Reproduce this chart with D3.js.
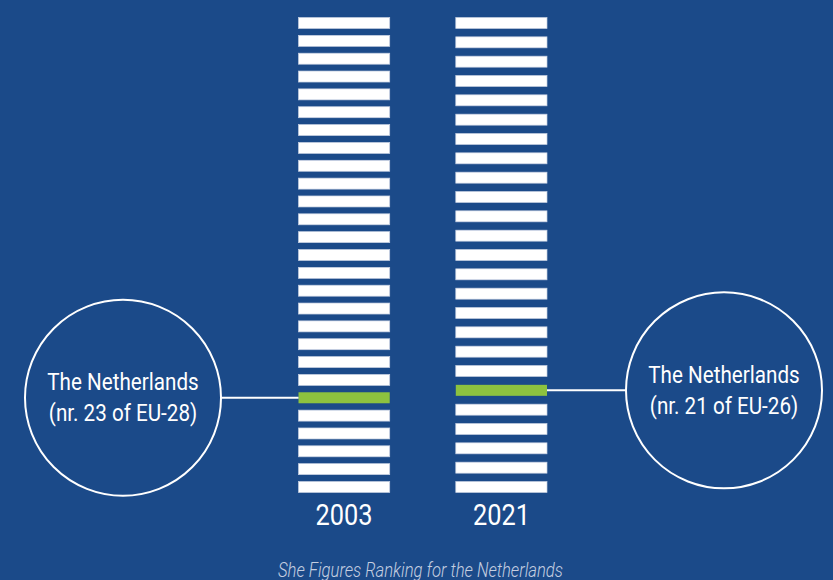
<!DOCTYPE html>
<html>
<head>
<meta charset="utf-8">
<script src="https://cdn.jsdelivr.net/npm/d3@7"></script>
<style>
  body { margin: 0; background: #1b4a89; }
  svg { display: block; }
</style>
</head>
<body>
<svg id="chart"></svg>
<script>
// data
const years = ["2003", "2021"]
const barCounts = [27, 25]       // bars drawn in each column
const highlightPos = [22, 20]    // position of the green (NL) bar, counted from top
const labelTop = ["The Netherlands", "The Netherlands"]
const labelBottom = ["(nr. 23 of EU-28)", "(nr. 21 of EU-26)"]
const caption = "She Figures Ranking for the Netherlands"

const width = 833
const height = 580
const bg = "#1b4a89"
const green = "#8dc23f"
const barH = 11
const circleR = 98
const circleX = [123, 724]
const squeeze = 0.86   // fake a condensed face

const svg = d3.select("#chart")
    .attr("width", width)
    .attr("height", height)

svg.append("rect")
    .attr("width", width)
    .attr("height", height)
    .attr("fill", bg)

const x = d3.scaleBand()
    .domain(years)
    .range([298.5, 547])
    .paddingInner(0.42)

function yScale(n){
    return d3.scaleLinear()
        .domain([1, n])
        .range([17.5, 481.5])
}

function condensedText(g, str, cx, cy, size, opts = {}){
    return g.append("text")
        .text(str)
        .attr("transform", `translate(${cx},${cy}) scale(${squeeze},1)`)
        .attr("font-family", "Roboto, sans-serif")
        .attr("font-size", size)
        .attr("font-weight", opts.weight || 400)
        .attr("font-style", opts.style || "normal")
        .attr("text-anchor", "middle")
        .attr("fill", opts.fill || "white")
}

years.forEach((year, k) => {
    const y = yScale(barCounts[k])
    const col = svg.append("g")

    col.selectAll("rect")
        .data(d3.range(1, barCounts[k] + 1))
        .join("rect")
        .attr("x", x(year))
        .attr("y", d => y(d))
        .attr("width", x.bandwidth())
        .attr("height", barH)
        .attr("fill", d => d === highlightPos[k] ? green : "white")
        .attr("stroke", d => d === highlightPos[k] ? "none" : "#c3cde0")
        .attr("stroke-width", 0.7)

    condensedText(col, year, x(year) + x.bandwidth() / 2, 525, 29.5)

    // callout circle joined to the highlighted bar
    const cy = y(highlightPos[k]) + barH / 2
    const cx = circleX[k]
    const left = cx < x(year)
    col.append("line")
        .attr("x1", left ? cx + circleR : x(year) + x.bandwidth())
        .attr("x2", left ? x(year) : cx - circleR)
        .attr("y1", cy)
        .attr("y2", cy)
        .attr("stroke", "white")
        .attr("stroke-width", 2)

    col.append("circle")
        .attr("cx", cx)
        .attr("cy", cy)
        .attr("r", circleR)
        .attr("fill", "none")
        .attr("stroke", "white")
        .attr("stroke-width", 2)

    condensedText(col, labelTop[k], cx, cy - 7.5, 24)
    condensedText(col, labelBottom[k], cx, cy + 23.5, 24)
})

condensedText(svg, caption, 420.5, 576.5, 19.4, {style: "italic", weight: 300, fill: "#c4cee0"})
</script>
</body>
</html>
